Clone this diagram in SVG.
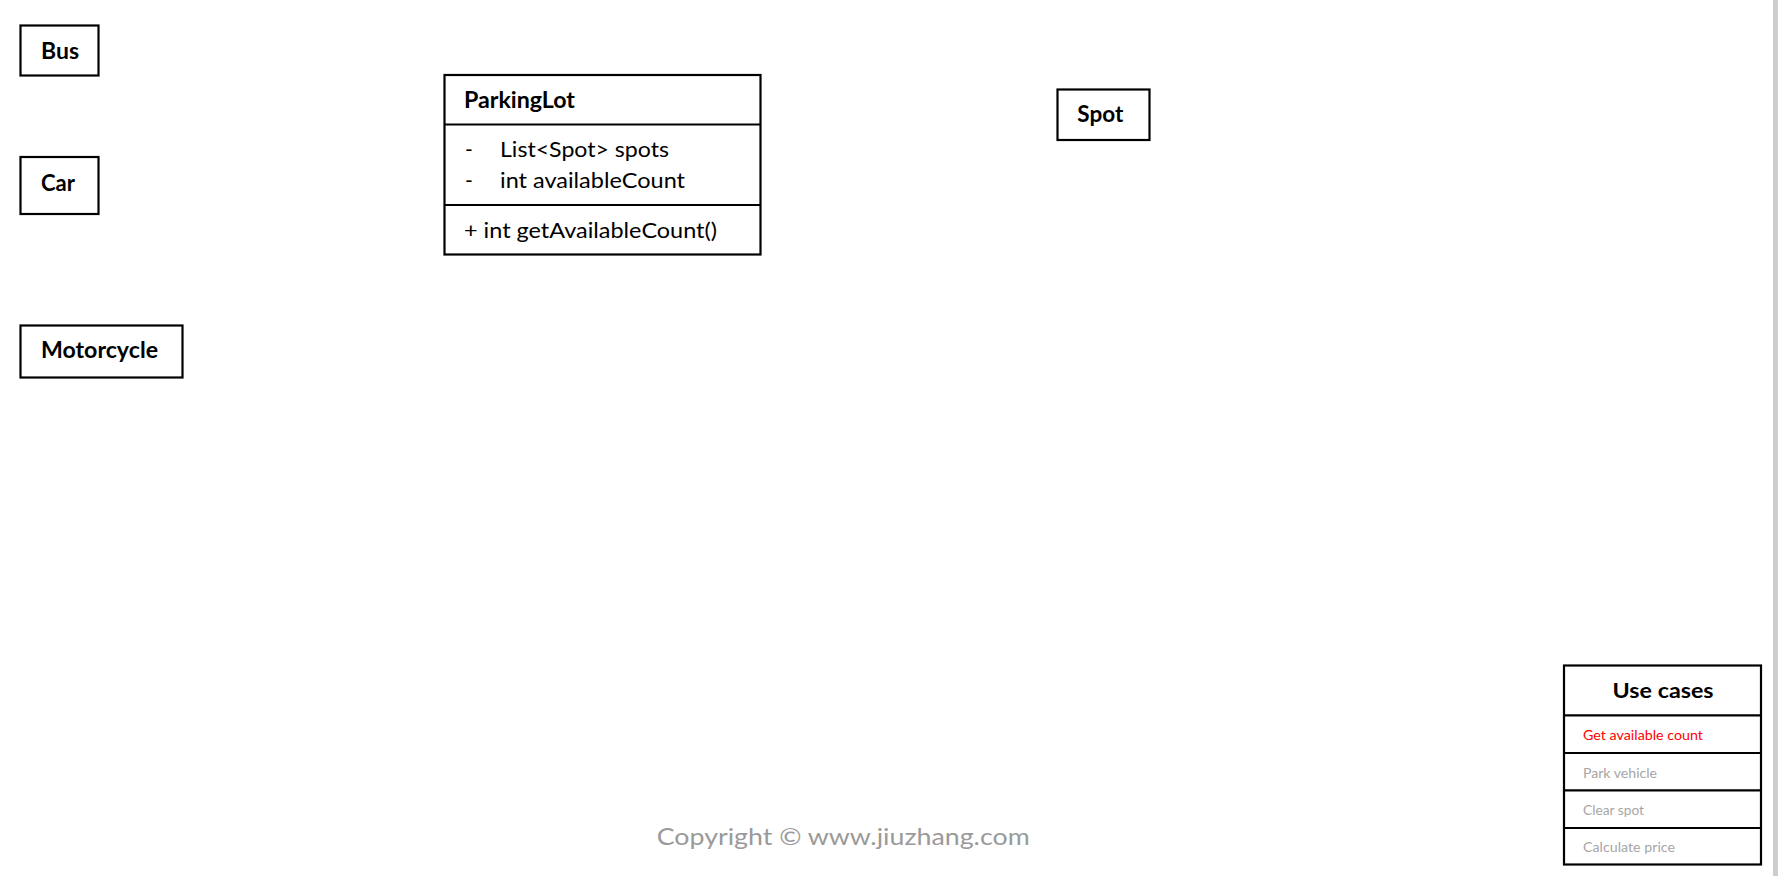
<svg xmlns="http://www.w3.org/2000/svg" width="1778" height="876" viewBox="0 0 1778 876">
<style>
.box{fill:#ffffff;stroke:#000000;stroke-width:2.2}
.sep{stroke:#000000;stroke-width:2.2}
.lbl{font-family:Lato,"Liberation Sans",sans-serif;font-weight:bold;font-size:22px;fill:#000000}
.reg{font-family:Lato,"Liberation Sans",sans-serif;font-size:21px;fill:#000000}
.uct{font-family:Lato,"Liberation Sans",sans-serif;font-weight:bold;font-size:20px;fill:#000000}
.uc{font-family:Lato,"Liberation Sans",sans-serif;font-size:14px;fill:#a6a6a6}
.ucr{fill:#ff0000}
.copy{font-family:Lato,"Liberation Sans",sans-serif;font-size:23px;fill:#9a9a9a}
</style>
<rect x="0" y="0" width="1778" height="876" fill="#ffffff"/>
<rect x="1773" y="0" width="5" height="876" fill="#cdcdcd"/>
<g id="connectors"></g>
<g id="bus">
<rect class="box" x="20.5" y="25.5" width="78" height="50"/>
<text class="lbl" x="41" y="58.5" textLength="38" lengthAdjust="spacingAndGlyphs">Bus</text>
</g>
<g id="car">
<rect class="box" x="20.5" y="157" width="78" height="57"/>
<text class="lbl" x="41" y="190.7" textLength="34" lengthAdjust="spacingAndGlyphs">Car</text>
</g>
<g id="motorcycle">
<rect class="box" x="20.5" y="325.5" width="162" height="52"/>
<text class="lbl" x="41" y="358" textLength="117" lengthAdjust="spacingAndGlyphs">Motorcycle</text>
</g>
<g id="parkinglot">
<rect class="box" x="444.5" y="75" width="316" height="179.5"/>
<line class="sep" x1="444.5" y1="124.5" x2="760.5" y2="124.5"/>
<line class="sep" x1="444.5" y1="205" x2="760.5" y2="205"/>
<text class="lbl" x="464" y="108.3" textLength="111" lengthAdjust="spacingAndGlyphs">ParkingLot</text>
<text class="reg" x="465" y="157.3">-</text>
<text class="reg" x="500" y="157.3" textLength="169" lengthAdjust="spacingAndGlyphs">List&lt;Spot&gt;  spots</text>
<text class="reg" x="465" y="188.3">-</text>
<text class="reg" x="500" y="188.3" textLength="185" lengthAdjust="spacingAndGlyphs">int availableCount</text>
<text class="reg" x="464" y="238.3" textLength="253" lengthAdjust="spacingAndGlyphs">+ int getAvailableCount()</text>
</g>
<g id="spot">
<rect class="box" x="1057.5" y="89.5" width="92" height="50.5"/>
<text class="lbl" x="1077.3" y="121.7" textLength="46" lengthAdjust="spacingAndGlyphs">Spot</text>
</g>
<g id="usecases">
<rect class="box" x="1564" y="665.5" width="197" height="199"/>
<line class="sep" x1="1564" y1="715.3" x2="1761" y2="715.3"/>
<line class="sep" x1="1564" y1="753" x2="1761" y2="753"/>
<line class="sep" x1="1564" y1="790.4" x2="1761" y2="790.4"/>
<line class="sep" x1="1564" y1="828" x2="1761" y2="828"/>
<text class="uct" x="1612.6" y="697.5" textLength="101" lengthAdjust="spacingAndGlyphs">Use cases</text>
<text class="uc ucr" x="1583" y="740.3" textLength="120" lengthAdjust="spacingAndGlyphs">Get available count</text>
<text class="uc" x="1583" y="777.8" textLength="74" lengthAdjust="spacingAndGlyphs">Park vehicle</text>
<text class="uc" x="1583" y="815.3" textLength="61" lengthAdjust="spacingAndGlyphs">Clear spot</text>
<text class="uc" x="1583" y="852" textLength="92" lengthAdjust="spacingAndGlyphs">Calculate price</text>
</g>
<text class="copy" x="656.7" y="845" textLength="373" lengthAdjust="spacingAndGlyphs">Copyright © www.jiuzhang.com</text>
</svg>
